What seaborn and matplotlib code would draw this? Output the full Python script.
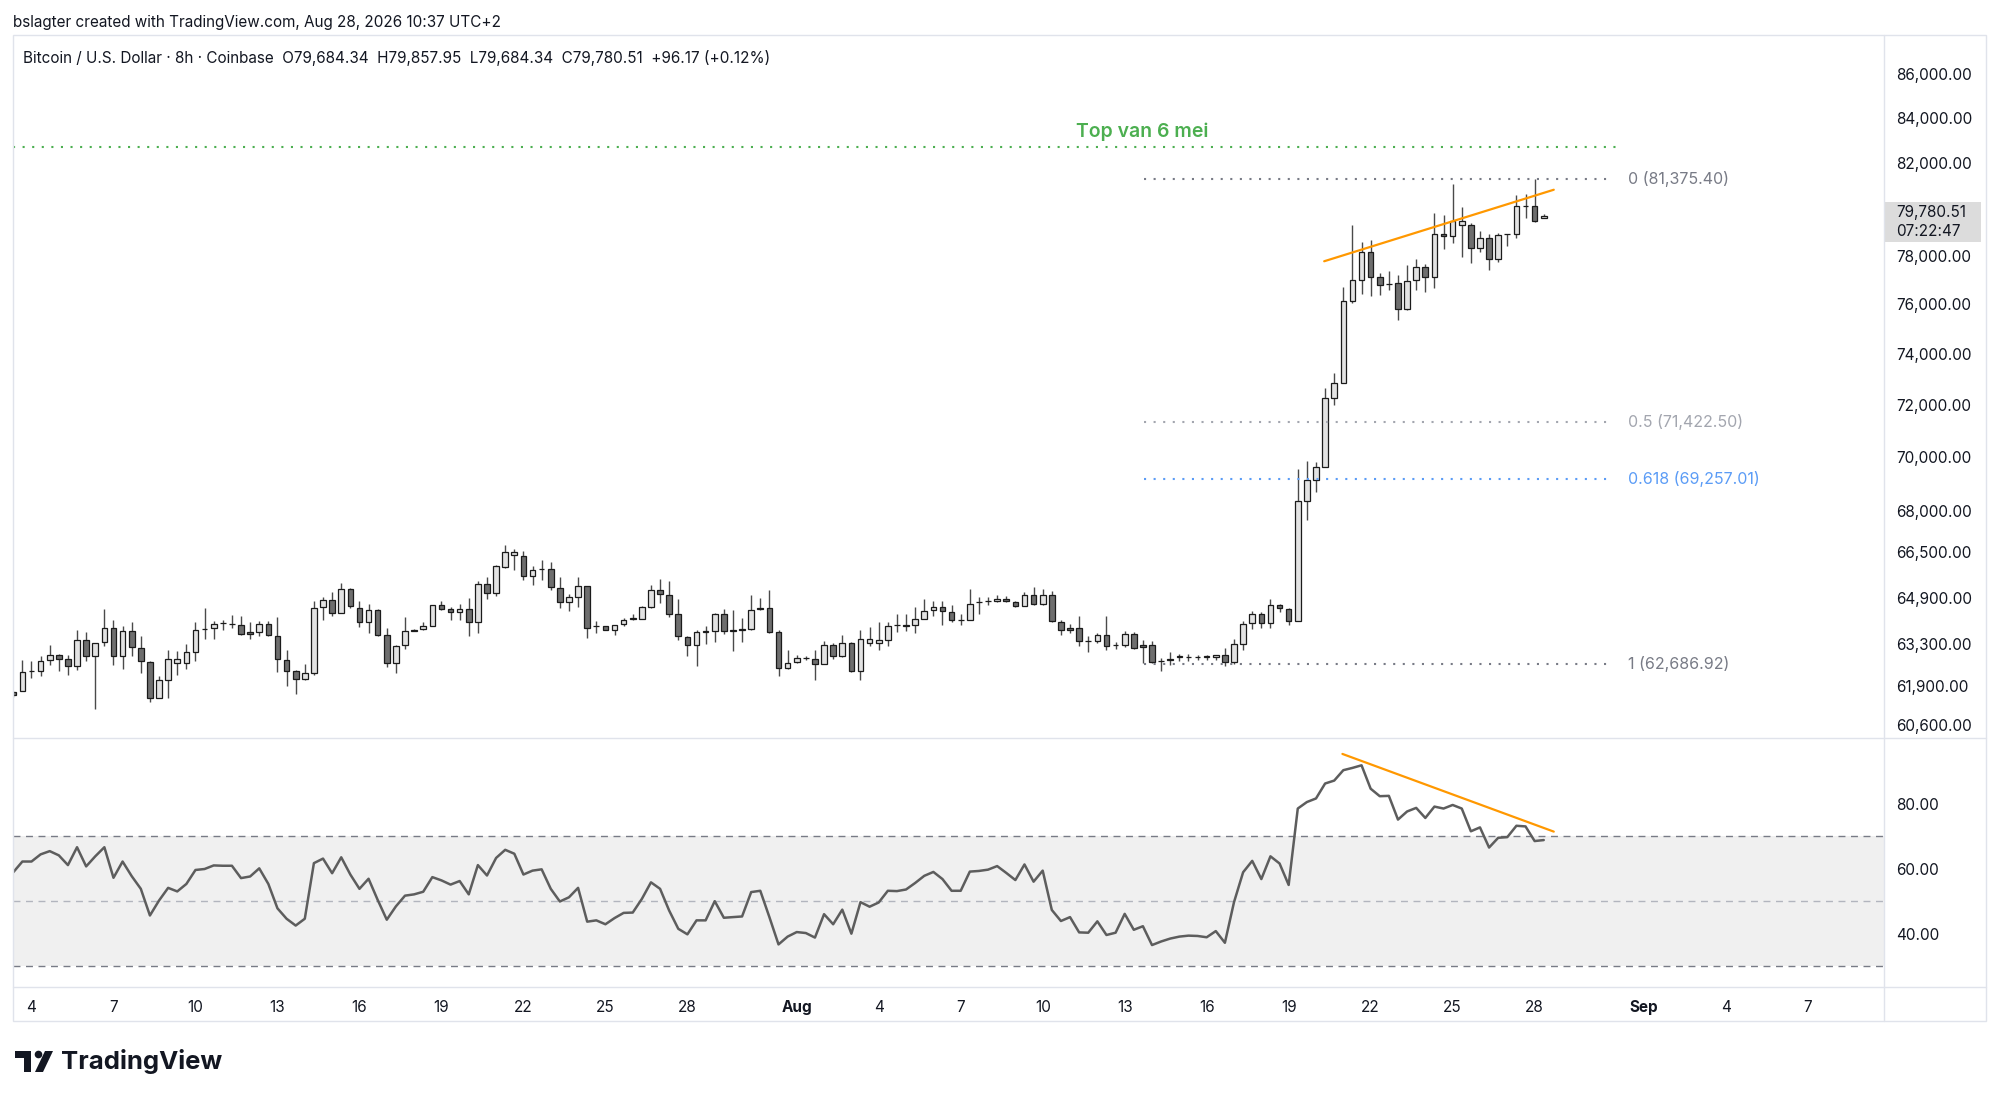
import numpy as np
import pandas as pd
import matplotlib
matplotlib.use("Agg")
import matplotlib.pyplot as plt
import matplotlib.ticker as mticker
from matplotlib.patches import Rectangle, Circle, Polygon
from matplotlib.transforms import ScaledTranslation
import seaborn as sns

# 8h candles, BTC/USD Coinbase, Jul 3 - Aug 28
opens = [61750, 61810, 62450, 62480, 62830, 63000, 62870, 62620, 63505, 62960,
         63440, 63930, 62985, 63815, 63245, 62760, 61580, 62175, 62740, 62735,
         63110, 63880, 63930, 64080, 64065, 64030, 63780, 63780, 64065, 63640,
         62850, 62455, 62210, 62400, 64640, 64910, 64435, 65295, 64615, 64120,
         64560, 63675, 62735, 63335, 63870, 63895, 64005, 64710, 64585, 64480,
         64595, 64135, 65470, 65140, 66060, 66465, 66440, 65750, 66000, 66000,
         65315, 64825, 64990, 65375, 63985, 63985, 63870, 64065, 64250, 64250,
         64655, 65260, 65085, 64410, 63610, 63355, 63800, 63805, 64420, 63835,
         63870, 63875, 64630, 64630, 63790, 62570, 62760, 62905, 62870, 62715,
         63355, 62960, 63415, 62455, 63415, 63415, 63530, 64020, 64030, 64040,
         64235, 64535, 64665, 64470, 64205, 64205, 64825, 64850, 64850, 64945,
         64815, 64700, 65085, 64770, 65060, 64135, 63930, 63930, 63495, 63470,
         63675, 63335, 63335, 63720, 63355, 63355, 62815, 62885, 62950, 62950,
         62950, 62950, 62930, 62995, 62770, 63390, 64080, 64390, 64080, 64710,
         64595, 64155, 68430, 69220, 69720, 72340, 72930, 76195, 77080, 78230,
         77180, 76910, 76940, 75895, 77055, 77620, 77190, 79010, 78910, 79400,
         79400, 78410, 78810, 77930, 78980, 78980, 80210, 80180, 79684.34]
highs = [61780, 62850, 62790, 62960, 63330, 63050, 63020, 63870, 63780, 63415,
         64580, 64190, 63985, 64120, 63640, 62790, 62290, 63165, 63130, 63380,
         64120, 64605, 64155, 64190, 64385, 64330, 64120, 64155, 64155, 64305,
         63165, 62510, 62700, 64850, 65000, 65165, 65495, 65315, 64850, 64770,
         64585, 63930, 63335, 64295, 63895, 64120, 64735, 64850, 64655, 64770,
         64965, 65550, 65695, 66140, 66855, 66680, 66620, 66105, 66295, 66225,
         65695, 65105, 65695, 65375, 64155, 64010, 64040, 64275, 64410, 64675,
         65435, 65645, 65550, 64945, 63665, 63870, 63985, 64445, 64595, 64535,
         64275, 65060, 64965, 65260, 63870, 63165, 62995, 62960, 63165, 63495,
         63415, 63675, 63450, 63850, 63950, 64120, 64120, 64420, 64410, 64655,
         64930, 64870, 64870, 64710, 64410, 65285, 65000, 64990, 65060, 65030,
         64870, 65175, 65350, 65280, 65200, 64215, 64065, 64355, 63665, 63755,
         64330, 63435, 63815, 63790, 63530, 63495, 62905, 63110, 63050, 63050,
         63015, 63015, 63015, 63245, 63550, 64155, 64505, 64460, 64945, 64770,
         64620, 69615, 69935, 69885, 72735, 73305, 76770, 79400, 78650, 78740,
         77360, 77460, 77290, 77680, 77960, 77750, 79890, 79790, 81160, 80140,
         79480, 79110, 79010, 79050, 79010, 80690, 80730, 81375.40, 79857.95]
lows = [61600, 61790, 62230, 62310, 62680, 62480, 62345, 62490, 62790, 61215,
        63300, 62680, 62535, 62985, 62400, 61420, 61580, 61580, 62345, 62535,
        62815, 63550, 63550, 63870, 63930, 63700, 63550, 63640, 63640, 62420,
        61975, 61710, 62175, 62345, 64190, 64355, 64435, 64615, 63960, 63755,
        63640, 62600, 62400, 63210, 63805, 63850, 63985, 64535, 64190, 64190,
        63665, 63755, 64945, 65025, 66025, 65965, 65590, 65435, 65590, 65235,
        64615, 64500, 64640, 63585, 63755, 63850, 63700, 64005, 64190, 64235,
        64615, 64790, 64295, 63530, 62960, 62625, 63380, 63435, 63735, 63130,
        63435, 63850, 64535, 63755, 62310, 62535, 62736, 62850, 62155, 62715,
        62870, 62940, 62425, 62155, 63300, 63185, 63300, 63780, 63835, 63745,
        64235, 64330, 64040, 64120, 64040, 64205, 64410, 64735, 64825, 64815,
        64655, 64675, 64735, 64735, 64120, 63700, 63755, 63325, 63110, 63415,
        63185, 63210, 63265, 63210, 62735, 62735, 62455, 62680, 62815, 62790,
        62850, 62850, 62850, 62625, 62715, 63165, 63875, 63930, 63930, 64470,
        64040, 64155, 67740, 68775, 69720, 72075, 72930, 76125, 76510, 76400,
        76440, 76665, 75450, 75855, 76640, 76570, 76730, 78370, 78625, 78030,
        77780, 78230, 77500, 77810, 78480, 78810, 79670, 79500, 79684.34]
closes = [61650, 62435, 62480, 62790, 63000, 62880, 62620, 63505, 62960, 63415,
          63930, 62985, 63815, 63265, 62790, 61580, 62155, 62870, 62870, 63095,
          63860, 63900, 64065, 64095, 64060, 63720, 63720, 64065, 63675, 62870,
          62480, 62210, 62390, 64605, 64910, 64435, 65295, 64675, 64120, 64560,
          63700, 62735, 63325, 63815, 63825, 63985, 64710, 64595, 64470, 64595,
          64135, 65470, 65140, 66080, 66580, 66580, 65750, 65940, 65975, 65340,
          64825, 64990, 65375, 63940, 63980, 63870, 64040, 64215, 64255, 64655,
          65260, 65105, 64410, 63640, 63355, 63780, 63805, 64420, 63805, 63840,
          63875, 64560, 64585, 63790, 62570, 62736, 62905, 62900, 62715, 63355,
          62960, 63415, 62455, 63550, 63550, 63530, 63985, 64020, 63985, 64235,
          64525, 64665, 64505, 64215, 64205, 64770, 64830, 64850, 64945, 64850,
          64700, 65085, 64770, 65060, 64155, 63870, 63850, 63470, 63490, 63675,
          63300, 63330, 63720, 63245, 63280, 62770, 62810, 62825, 62955, 62945,
          62950, 62955, 62995, 62770, 63360, 64065, 64390, 64080, 64710, 64620,
          64155, 68430, 69220, 69720, 72340, 72905, 76195, 77080, 78230, 77180,
          76870, 76910, 75895, 77035, 77620, 77190, 78980, 78910, 79550, 79550,
          78410, 78810, 77930, 78940, 78980, 80180, 80210, 79570, 79780.51]
rsi = [58.9, 62.2, 62.2, 64.4, 65.4, 64.1, 61.1, 66.6, 60.7, 63.8,
       66.6, 57.2, 62.2, 57.7, 53.8, 45.6, 50.2, 54.1, 53.0, 55.3,
       59.6, 59.9, 61.0, 60.9, 60.9, 57.1, 57.6, 60.1, 55.3, 47.8,
       44.6, 42.5, 44.6, 61.7, 63.1, 58.6, 63.5, 58.2, 53.8, 56.9,
       50.4, 44.3, 48.4, 51.7, 52.1, 52.9, 57.4, 56.4, 55.1, 56.2,
       52.1, 61.1, 57.9, 63.3, 65.8, 64.6, 58.2, 59.4, 59.8, 53.8,
       49.9, 51.2, 54.1, 43.7, 44.1, 42.9, 44.8, 46.4, 46.5, 50.7,
       55.8, 53.8, 47.1, 41.5, 39.8, 44.1, 44.1, 50.0, 44.9, 45.1,
       45.3, 52.8, 53.2, 45.1, 36.7, 39.1, 40.5, 40.2, 38.8, 46.0,
       42.9, 47.4, 40.0, 49.7, 48.3, 49.6, 53.2, 53.1, 53.6, 55.6,
       57.8, 59.0, 56.8, 53.2, 53.2, 59.1, 59.3, 59.7, 60.8, 58.7,
       56.5, 61.3, 56.0, 59.4, 47.3, 43.9, 45.1, 40.4, 40.3, 43.8,
       39.6, 40.3, 46.1, 41.2, 42.3, 36.5, 37.6, 38.5, 39.1, 39.4,
       39.3, 38.9, 40.8, 37.2, 49.7, 58.9, 62.4, 56.8, 63.8, 61.6,
       55.0, 78.5, 80.5, 81.6, 86.2, 87.1, 90.3, 91.0, 91.8, 84.6,
       82.3, 82.4, 75.1, 77.6, 78.7, 75.6, 79.1, 78.5, 79.6, 78.5,
       71.5, 72.7, 66.5, 69.5, 69.7, 73.2, 73.0, 68.5, 68.8]

# time axis: days after Jul 4 (first candle is Jul 3, 2 bars before)
tick_days = [0, 3, 6, 9, 12, 15, 18, 21, 24, 28, 31, 34, 37, 40, 43, 46, 49, 52, 55, 59, 62, 65]
tick_labels = ["4", "7", "10", "13", "16", "19", "22", "25", "28", "Aug",
               "4", "7", "10", "13", "16", "19", "22", "25", "28", "Sep", "4", "7"]
# 80,000 sits under the live price label, so it is left out
price_ticks = [60600, 61900, 63300, 64900, 66500, 68000, 70000, 72000, 74000,
               76000, 78000, 82000, 84000, 86000]
rsi_ticks = [40, 60, 80]

# drawn objects
top_6_mei = 82760
fib_levels = [0, 0.5, 0.618, 1]
fib_prices = [81375.40, 71422.50, 69257.01, 62686.92]
fib_colors = ["#787b86", "#a3a6af", "#5b9cf6", "#787b86"]
trend_price_x = [143.9, 169.1]
trend_price_y = [77850, 80900]
trend_rsi_x = [145.9, 169.1]
trend_rsi_y = [95.3, 71.4]

df = pd.DataFrame({"open": opens, "high": highs, "low": lows, "close": closes, "rsi": rsi})
df["x"] = np.arange(len(df))

sns.set_theme(style="white")
plt.rcParams["font.family"] = ["Inter", "DejaVu Sans"]
TXT = "#131722"

W, H = 2000, 1101
fig = plt.figure(figsize=(20, 11.01), dpi=100)


def box(x0, y0, x1, y1):
    return [x0 / W, 1 - y1 / H, (x1 - x0) / W, (y1 - y0) / H]


ax = fig.add_axes(box(13, 36, 1884, 738))
ax_rsi = fig.add_axes(box(13, 738, 1884, 987))
XMAX = 205.35

# candles
up = df["close"] >= df["open"]
body_lo = np.minimum(df["open"], df["close"])
body_h = (df["close"] - df["open"]).abs()
ax.vlines(df["x"], df["low"], df["high"], color="#4a4a4a", lw=1.0, zorder=2)
ax.bar(df["x"], body_h, bottom=body_lo, width=0.62,
       color=np.where(up, "#e3e3e3", "#6e6e6e"), edgecolor="#1b1b1b",
       linewidth=0.9, zorder=3)

ax.set_yscale("log")
ax.set_ylim(60255, 87868)
ax.set_xlim(-0.03, XMAX)
ax.yaxis.set_major_locator(mticker.FixedLocator(price_ticks))
ax.yaxis.set_minor_locator(mticker.NullLocator())
ax.yaxis.set_major_formatter(mticker.FuncFormatter(lambda v, p: f"{v:,.2f}"))
ax.yaxis.tick_right()
ax.tick_params(axis="y", length=0, pad=8.6, labelsize=11, labelcolor=TXT)
ax.set_xticks([])
for s in ax.spines.values():
    s.set_visible(False)
# price labels sit a touch above their level, as on TradingView
lift = ScaledTranslation(0, 2 / 100, fig.dpi_scale_trans)
for lab in ax.get_yticklabels():
    lab.set_transform(lab.get_transform() + lift)

# Top van 6 mei
ax.plot([0, 176.1], [top_6_mei, top_6_mei], color="#4caf50", lw=1.5,
        linestyle=(0, (1, 3.6)), zorder=4)
ax.text(123.9, 83451, "Top van 6 mei", color="#4caf50", fontsize=14,
        fontweight="semibold", ha="center", va="center")

# fib retracement
for lvl, pr, col in zip(fib_levels, fib_prices, fib_colors):
    ax.plot([124.1, 175.3], [pr, pr], color=col, lw=1.5,
            linestyle=(0, (1, 3.6)), zorder=4)
    ax.text(177.2, pr, f"{lvl:g} ({pr:,.2f})", color=col, fontsize=11.5,
            ha="left", va="center")

sns.lineplot(x=trend_price_x, y=trend_price_y, ax=ax, color="#ff9800", lw=1.6, zorder=5)

# RSI pane
ax_rsi.axhspan(30, 70, color="#f0f0f0", zorder=0, lw=0)
for lvl, col in [(70, "#787b86"), (30, "#787b86"), (50, "#b2b5be")]:
    ax_rsi.axhline(lvl, color=col, lw=1.0, linestyle=(0, (5, 4)), zorder=1)
sns.lineplot(data=df, x="x", y="rsi", ax=ax_rsi, color="#5d5d5d", lw=1.8, zorder=3)
sns.lineplot(x=trend_rsi_x, y=trend_rsi_y, ax=ax_rsi, color="#ff9800", lw=1.6, zorder=4)
ax_rsi.set_xlim(-0.03, XMAX)
ax_rsi.set_ylim(23.6, 100.2)
ax_rsi.set_xlabel("")
ax_rsi.set_ylabel("")
ax.set_xlabel("")
ax.set_ylabel("")
ax_rsi.yaxis.tick_right()
ax_rsi.set_yticks(rsi_ticks)
ax_rsi.yaxis.set_major_formatter(mticker.FormatStrFormatter("%.2f"))
ax_rsi.set_xticks([2 + 3 * d for d in tick_days])
ax_rsi.set_xticklabels(tick_labels)
ax_rsi.tick_params(axis="y", length=0, pad=8.6, labelsize=11, labelcolor=TXT)
ax_rsi.tick_params(axis="x", length=0, pad=9.5, labelsize=11, labelcolor=TXT)
for lab in ax_rsi.get_xticklabels():
    if lab.get_text() in ("Aug", "Sep"):
        lab.set_fontweight("bold")
for s in ax_rsi.spines.values():
    s.set_visible(False)

# overlay in pixel coordinates: frame, header, price label, logo
ov = fig.add_axes([0, 0, 1, 1], zorder=10)
ov.set_xlim(0, W)
ov.set_ylim(H, 0)
ov.axis("off")
ov.patch.set_alpha(0)
GRID = "#e0e3eb"
ov.add_patch(Rectangle((13, 35), 1973, 986, fill=False, edgecolor=GRID, lw=1))
ov.plot([13, 1986], [738, 738], color=GRID, lw=1)
ov.plot([13, 1986], [987, 987], color=GRID, lw=1)
ov.plot([1884, 1884], [35, 1021], color=GRID, lw=1)

ov.text(13, 22, "bslagter created with TradingView.com, Aug 28, 2026 10:37 UTC+2",
        fontsize=11, color=TXT, ha="left", va="center")
ov.text(23, 58, "Bitcoin / U.S. Dollar · 8h · Coinbase  O79,684.34  H79,857.95  "
        "L79,684.34  C79,780.51  +96.17 (+0.12%)",
        fontsize=11, color=TXT, ha="left", va="center")

ov.add_patch(Rectangle((1884, 202), 97, 40, color="#dcdcdc", lw=0))
ov.text(1896, 213, "79,780.51", fontsize=11, color=TXT, ha="left", va="center")
ov.text(1896, 232, "07:22:47", fontsize=11, color=TXT, ha="left", va="center")

ov.add_patch(Rectangle((15, 1051), 16, 7, color=TXT, lw=0))
ov.add_patch(Rectangle((24, 1051), 7, 21, color=TXT, lw=0))
ov.add_patch(Circle((38.5, 1054.5), 3.8, color=TXT, lw=0))
ov.add_patch(Polygon([(35, 1072), (43, 1072), (53, 1051), (45, 1051)], color=TXT, lw=0))
ov.text(61, 1061, "TradingView", fontsize=18.5, fontweight="bold", color=TXT,
        ha="left", va="center")

fig.savefig("out.png", dpi=100, facecolor="white")
